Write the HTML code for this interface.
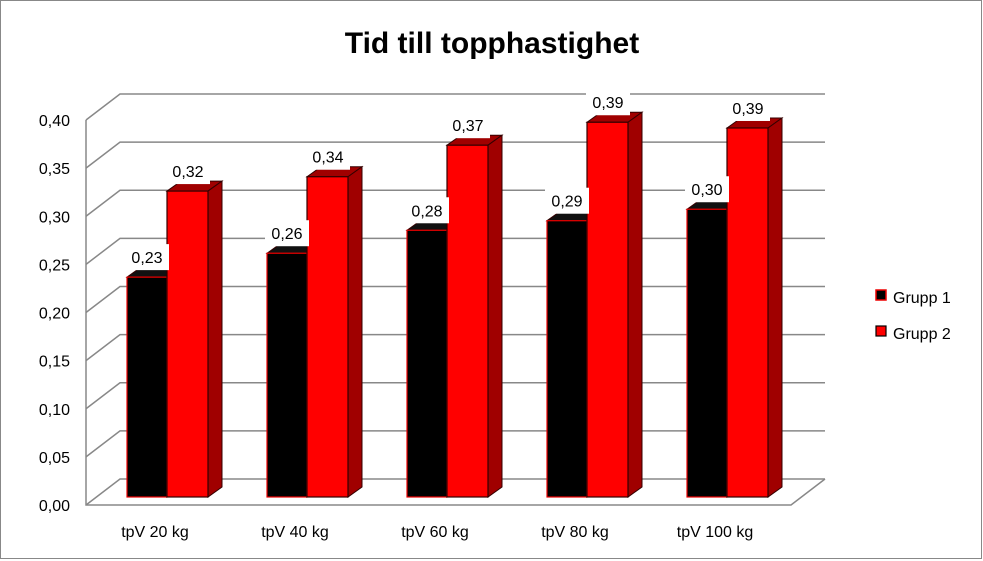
<!DOCTYPE html>
<html><head><meta charset="utf-8"><style>
html,body{margin:0;padding:0;background:#fff}
svg{display:block;font-family:"Liberation Sans",sans-serif}
</style></head><body>
<svg id="chart" width="983" height="561" viewBox="0 0 983 561">
<rect x="0.5" y="0.5" width="981" height="558" fill="#fff" stroke="#888"/>
<text x="492" y="53" text-anchor="middle" font-size="30" font-weight="bold">Tid till topphastighet</text>
<g id="grid"></g><g id="bars"></g><g id="labels"></g>
<g>
<g><rect x="876" y="290" width="10" height="10" fill="#000" stroke="#e00" stroke-width="1.5"/><text x="893" y="303" font-size="16">Grupp 1</text></g>
<g><rect x="876" y="326" width="10" height="10" fill="#f00" stroke="#000" stroke-width="1.2"/><text x="893" y="339" font-size="16">Grupp 2</text></g>
</g>
</svg>
<script>
const categories=["tpV 20 kg","tpV 40 kg","tpV 60 kg","tpV 80 kg","tpV 100 kg"];
const grupp1=[0.23,0.255,0.279,0.289,0.301];
const grupp2=[0.32,0.335,0.368,0.392,0.386];
const ticks=[0,0.05,0.10,0.15,0.20,0.25,0.30,0.35,0.40];
const NS="http://www.w3.org/2000/svg";
function mk(t,a,p){const e=document.createElementNS(NS,t);for(const k in a)e.setAttribute(k,a[k]);p.appendChild(e);return e;}
const x0=86,x1=791,yF0=505,yF40=120,dx=34,dy=-26;
const yFront=v=>yF0-(yF0-yF40)*v/0.4;
const barScale=956,barBase=497;
const yBar=v=>barBase-barScale*v;
const groupX=i=>127+i*140;
const grid=document.getElementById('grid'),bars=document.getElementById('bars'),labels=document.getElementById('labels');
ticks.forEach((t,i)=>{
 const yf=yFront(t);
 const l=mk('polyline',{points:`${x0},${yf} ${x0+dx},${yf+dy} ${x1+dx},${yf+dy}`,fill:'none',stroke:'#888','stroke-width':1.5},grid);
 
 
 const tx=mk('text',{x:70,y:yf+6,'text-anchor':'end','font-size':16},grid);
 tx.textContent=t.toFixed(2).replace('.',',');
 
 
});
const ax=mk('polyline',{points:`${x0},${yFront(0.4)} ${x0},${yF0} ${x1},${yF0} ${x1+dx},${yF0+dy}`,fill:'none',stroke:'#888','stroke-width':1.5},grid);


function bar(x,w,v,front,side,name){
 const g=mk('g',{},bars);
 
 
 const yt=yBar(v),d=14,e=-10;
 mk('polygon',{points:`${x},${yt} ${x+d},${yt+e} ${x+w+d},${yt+e} ${x+w},${yt}`,fill:side,stroke:'#300','stroke-width':1},g);
 mk('polygon',{points:`${x+w},${yt} ${x+w+d},${yt+e} ${x+w+d},${barBase+e} ${x+w},${barBase}`,fill:side,stroke:'#300','stroke-width':1},g);
 mk('rect',{x:x,y:yt,width:w,height:barBase-yt,fill:front,stroke:front=='#000'?'#e00':'#300','stroke-width':1.2},g);
}
function lab(cx,v){
 const y=yBar(v)-14;
 const r=mk('rect',{x:cx-22,y:y-19,width:44,height:26,fill:'#fff'},labels);
 
 
 const t=mk('text',{x:cx,y:y,'text-anchor':'middle','font-size':16},labels);
 t.textContent=v.toFixed(2).replace('.',',');
 
 
}
categories.forEach((c,i)=>{
 const x=groupX(i);
 bar(x,40,grupp1[i],'#000','#111','bar-grupp1-'+(i+1));
 bar(x+40,41,grupp2[i],'#f00','#a00000','bar-grupp2-'+(i+1));
 lab(x+20,grupp1[i]);lab(x+61,grupp2[i]);
 const t=mk('text',{x:x+28,y:537,'text-anchor':'middle','font-size':16},labels);
 t.textContent=c;
 
 
});
</script>
</body></html>
